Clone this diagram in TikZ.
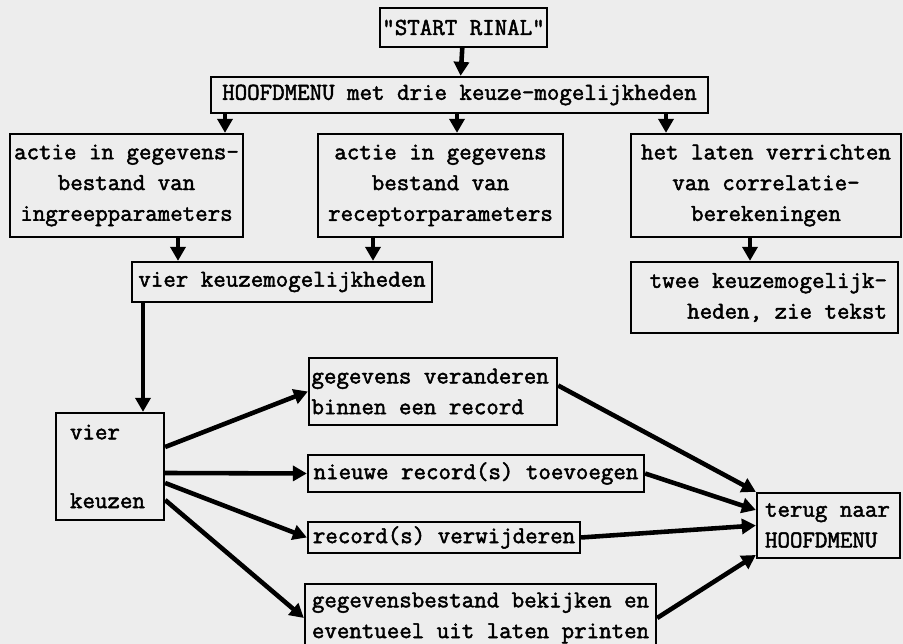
\documentclass[tikz,border=0pt]{standalone}
\usepackage{fontspec}
\newfontfamily\typefont{Latin Modern Mono}[WordSpace={1,0,0}, FakeBold=2]
\usetikzlibrary{arrows.meta}
\definecolor{scangray}{RGB}{237,237,237}

\begin{document}
\begin{tikzpicture}[
  every node/.style={font=\typefont\fontsize{13.8}{17.5}\selectfont},
  box/.style={draw, line width=1.3pt, inner sep=0pt, align=center},
  ragged/.style={execute at begin node={\spaceskip=\fontdimen2\font\xspaceskip=\fontdimen2\font\relax}},
  arr/.style={-{Triangle[length=2.8mm, width=3mm]}, line width=2.6pt},
]
  \useasboundingbox (0,0) rectangle (18.06,12.88);
  \clip (0,0) rectangle (18.06,12.88);
  \fill[scangray] (0,0) rectangle (18.06,12.88);

  % Start and main menu
  \node[box, minimum width=3.34cm, minimum height=0.78cm] (start) at (9.27,12.33) {"START RINAL"};
  \node[box, minimum width=9.94cm, minimum height=0.72cm] (menu) at (9.19,10.98)
    {HOOFDMENU met drie keuze-mogelijkheden};

  % Three choices of the main menu
  \node[box, minimum width=4.66cm, minimum height=2.06cm] (ingreep) at (2.53,9.17)
    {actie in gegevens-\\bestand van\\ingreepparameters};
  \node[box, minimum width=4.90cm, minimum height=2.06cm] (receptor) at (8.81,9.17)
    {actie in gegevens\\bestand van\\receptorparameters};
  \node[box, minimum width=5.40cm, minimum height=2.06cm] (correl) at (15.32,9.17)
    {het laten verrichten\\van correlatie-\\berekeningen};

  % Second level
  \node[box, minimum width=6.00cm, minimum height=0.80cm] (vier) at (5.64,7.24)
    {vier keuzemogelijkheden};
  \node[box, ragged, minimum width=5.34cm, minimum height=1.42cm, text width=4.90cm, align=right] (twee) at (15.29,6.93)
    {twee keuzemogelijk-\\heden, zie tekst};

  % Four actions on a data file
  \node[box, ragged, minimum width=2.16cm, minimum height=2.14cm, text width=1.60cm, inner xsep=0.28cm, align=left] (keuzen) at (2.20,3.55)
    {vier\\[0.76cm]keuzen};
  \node[box, ragged, minimum width=4.96cm, minimum height=1.34cm, text width=4.86cm, inner xsep=0.05cm, align=left] (verander) at (8.66,5.05)
    {gegevens veranderen\\binnen een record};
  \node[box, minimum width=6.72cm, minimum height=0.74cm] (nieuw) at (9.52,3.41)
    {nieuwe record(s) toevoegen};
  \node[box, minimum width=5.44cm, minimum height=0.62cm] (verwijder) at (8.88,2.13)
    {record(s) verwijderen};
  \node[box, minimum width=7.02cm, minimum height=1.36cm] (bekijk) at (9.61,0.52)
    {gegevensbestand bekijken en\\eventueel uit laten printen};
  \node[box, ragged, minimum width=2.86cm, minimum height=1.30cm, text width=2.54cm, inner xsep=0.16cm, align=left] (terug) at (16.57,2.37)
    {terug naar\\HOOFDMENU};

  % Vertical arrows
  \draw[arr] (start) -- (menu);
  \draw[arr] (menu.south -| 4.50,0) -- (ingreep.north -| 4.50,0);
  \draw[arr] (menu.south -| 9.14,0) -- (receptor.north -| 9.14,0);
  \draw[arr] (menu.south -| 13.32,0) -- (correl.north -| 13.32,0);
  \draw[arr] (ingreep.south -| 3.56,0) -- (vier.north -| 3.56,0);
  \draw[arr] (receptor.south -| 7.46,0) -- (vier.north -| 7.46,0);
  \draw[arr] (correl.south -| 15.00,0) -- (twee.north -| 15.00,0);
  \draw[arr] (vier.south -| 2.86,0) -- (keuzen.north -| 2.86,0);

  % Fan out to the four actions
  \foreach \dy/\tgt in {0.39/verander, -0.13/nieuw, -0.33/verwijder, -0.67/bekijk} {
    \draw[arr] ([yshift=\dy cm]keuzen.east) -- (\tgt.west);
  }

  % Back to the main menu
  \draw[arr] ([yshift=0.12cm]verander.east) -- (terug.north west);
  \draw[arr] (nieuw.east) -- ([yshift=0.31cm]terug.west);
  \draw[arr] (verwijder.east) -- (terug.west);
  \draw[arr] (bekijk.east) -- ([yshift=-0.59cm]terug.west);
\end{tikzpicture}
\end{document}
